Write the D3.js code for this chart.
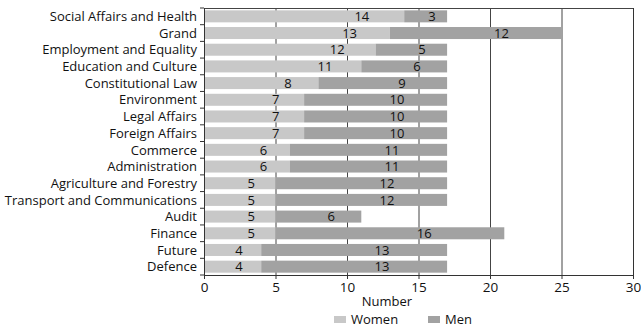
<!DOCTYPE html>
<html><head><meta charset="utf-8">
<script src="https://cdn.jsdelivr.net/npm/d3@7"></script>
<style>body{margin:0;background:#fff}svg{display:block}text{font-family:"Open Sans",sans-serif;fill:#111}</style>
</head><body><svg id="c" width="641" height="327"></svg>
<script>
const categories = ["Social Affairs and Health","Grand","Employment and Equality","Education and Culture","Constitutional Law","Environment","Legal Affairs","Foreign Affairs","Commerce","Administration","Agriculture and Forestry","Transport and Communications","Audit","Finance","Future","Defence"];
const women = [14,13,12,11,8,7,7,7,6,6,5,5,5,5,4,4];
const men = [3,12,5,6,9,10,10,10,11,11,12,12,6,16,13,13];
const xTicks = [0,5,10,15,20,25,30];
const seriesNames = ["Women","Men"];
const colors = ["#c8c8c8","#a2a2a2"];

const svg = d3.select("#c");
const m = {l:204, r:633, t:8, b:275};
const x = d3.scaleLinear().domain([0,30]).range([m.l, m.r]);
const y = d3.scaleBand().domain(categories).range([m.t, m.b]).paddingInner(0.28).paddingOuter(0.14);

// grid
svg.append("g").selectAll("line").data(xTicks.slice(1)).join("line")
  .attr("x1", d=>x(d)+0.5).attr("x2", d=>x(d)+0.5).attr("y1", m.t).attr("y2", m.b)
  .attr("stroke", "#444").attr("stroke-width", 1);
svg.append("line").attr("x1", m.l).attr("x2", m.r).attr("y1", m.t+0.5).attr("y2", m.t+0.5).attr("stroke","#444");

const rows = categories.map((c,i)=>({c, w:women[i], m:men[i]}));
const g = svg.append("g");
g.selectAll("rect.w").data(rows).join("rect").attr("class","w")
  .attr("x", x(0)).attr("y", d=>y(d.c)).attr("height", y.bandwidth())
  .attr("width", d=>x(d.w)-x(0)).attr("fill", colors[0]);
g.selectAll("rect.m").data(rows).join("rect").attr("class","m")
  .attr("x", d=>x(d.w)).attr("y", d=>y(d.c)).attr("height", y.bandwidth())
  .attr("width", d=>x(d.w+d.m)-x(d.w)).attr("fill", colors[1]);

// labels
g.selectAll("text.lw").data(rows).join("text").attr("class","lw")
  .attr("x", d=>x(0.86*d.w-1.0)).attr("y", d=>y(d.c)+y.bandwidth()/2)
  .attr("dy","0.36em").attr("text-anchor","middle").attr("font-size",13).text(d=>d.w);
g.selectAll("text.lm").data(rows).join("text").attr("class","lm")
  .attr("x", d=>x(d.w+0.65*d.m)).attr("y", d=>y(d.c)+y.bandwidth()/2)
  .attr("dy","0.36em").attr("text-anchor","middle").attr("font-size",13).text(d=>d.m);

// axes
const xa = svg.append("g").attr("transform",`translate(0,${m.b})`)
  .call(d3.axisBottom(x).tickValues(xTicks).tickSize(4).tickPadding(3));
xa.select(".domain").attr("stroke","#333");
xa.selectAll("line").attr("stroke","#333");
xa.selectAll("text").attr("font-size",13.5).attr("fill","#111").attr("font-family","Open Sans");

const ya = svg.append("g").attr("transform",`translate(${m.l},0)`);
ya.append("line").attr("x1",0.5).attr("x2",0.5).attr("y1",m.t).attr("y2",m.b).attr("stroke","#333");
ya.selectAll("line.t").data(d3.range(categories.length+1)).join("line").attr("class","t")
  .attr("x1",-4).attr("x2",0).attr("y1",d=>m.t+(m.b-m.t)*d/categories.length).attr("y2",d=>m.t+(m.b-m.t)*d/categories.length).attr("stroke","#333");
ya.selectAll("text").data(categories).join("text")
  .attr("x",-7).attr("y",d=>y(d)+y.bandwidth()/2).attr("dy","0.36em")
  .attr("text-anchor","end").attr("font-size",13).text(d=>d);

// right border
svg.append("line").attr("x1",m.r+0.5).attr("x2",m.r+0.5).attr("y1",m.t).attr("y2",m.b).attr("stroke","#333");

svg.append("text").attr("x",387).attr("y",306).attr("text-anchor","middle").attr("font-size",13).text("Number");

const lg = svg.append("g");
const lx = [334, 428];
seriesNames.forEach((s,i)=>{
  lg.append("rect").attr("x",lx[i]).attr("y",316).attr("width",12).attr("height",7).attr("fill",colors[i]);
  lg.append("text").attr("x",lx[i]+17).attr("y",319.5).attr("dy","0.36em").attr("font-size",13).text(s);
});
</script></body></html>
